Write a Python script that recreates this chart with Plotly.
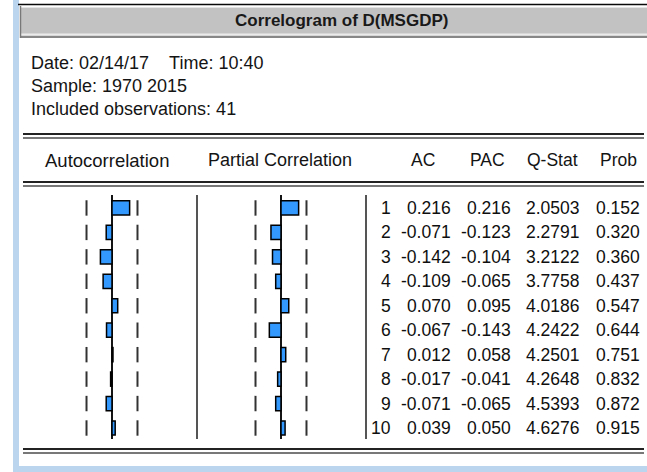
import plotly.graph_objects as go

# ---------------- data ----------------
lags = [1, 2, 3, 4, 5, 6, 7, 8, 9, 10]
ac = [0.216, -0.071, -0.142, -0.109, 0.070, -0.067, 0.012, -0.017, -0.071, 0.039]
pac = [0.216, -0.123, -0.104, -0.065, 0.095, -0.143, 0.058, -0.041, -0.065, 0.050]
qstat = [2.0503, 2.2791, 3.2122, 3.7758, 4.0186, 4.2422, 4.2501, 4.2648, 4.5393, 4.6276]
prob = [0.152, 0.320, 0.360, 0.437, 0.547, 0.644, 0.751, 0.832, 0.872, 0.915]
nobs = 41
title_text = "Correlogram of D(MSGDP)"
info_lines = ["Date: 02/14/17\u00a0\u00a0\u00a0\u00a0Time: 10:40",
              "Sample: 1970 2015",
              "Included observations: 41"]
col_headers = ["AC", "PAC", "Q-Stat", "Prob"]

bound = 2 / nobs ** 0.5

W, H = 647, 472
FONT = "Liberation Sans, Arial, sans-serif"


def fx(p):
    return p / W


def fy(p):
    return 1 - p / H


SCALE = 81.6  # px per unit of correlation


def xrange_for(left, right, zero):
    return [(left - zero) / SCALE, (right - zero) / SCALE]


fig = go.Figure()

bar_style = dict(color="rgb(51,153,255)", line=dict(color="black", width=1.5))
fig.add_trace(go.Bar(x=ac, y=lags, orientation="h", width=0.58, marker=bar_style,
                     xaxis="x", yaxis="y", showlegend=False, hoverinfo="skip"))
fig.add_trace(go.Bar(x=pac, y=lags, orientation="h", width=0.58, marker=bar_style,
                     xaxis="x2", yaxis="y", showlegend=False, hoverinfo="skip"))

tick_marker = dict(symbol="line-ns", size=11, line=dict(width=2, color="rgb(50,50,50)"))
for xa in ["x", "x2"]:
    fig.add_trace(go.Scatter(x=[-bound] * len(lags) + [bound] * len(lags), y=lags + lags,
                             mode="markers", marker=tick_marker, xaxis=xa, yaxis="y",
                             showlegend=False, hoverinfo="skip"))

axis_common = dict(showgrid=False, showticklabels=False, ticks="", showline=False,
                   zeroline=True, zerolinecolor="rgb(20,20,20)", zerolinewidth=1.5,
                   fixedrange=True)

shapes = []


def rect(x0, y0, x1, y1, color):
    shapes.append(dict(type="rect", xref="paper", yref="paper", x0=fx(x0), x1=fx(x1),
                       y0=fy(y1), y1=fy(y0), fillcolor=color, line=dict(width=0), layer="below"))


def hline(y, x0, x1, color, width):
    shapes.append(dict(type="line", xref="paper", yref="paper", x0=fx(x0), x1=fx(x1),
                       y0=fy(y), y1=fy(y), line=dict(color=color, width=width)))


def vline(x, y0, y1, color, width):
    shapes.append(dict(type="line", xref="paper", yref="paper", x0=fx(x), x1=fx(x),
                       y0=fy(y1), y1=fy(y0), line=dict(color=color, width=width)))


# window frame
rect(13, 0, 19, H, "rgb(188,213,238)")
rect(13, 466, W, H, "rgb(188,213,238)")
hline(4.5, 18, W, "rgb(10,10,10)", 1.5)
rect(20, 7, W, 37, "rgb(194,194,194)")
hline(7.5, 21, W, "rgb(228,228,228)", 1)
hline(34.5, 21, W, "rgb(235,235,235)", 2)
hline(37, 20, W, "rgb(135,135,135)", 2)
vline(20.5, 6, 38, "rgb(120,120,120)", 1.5)

# double rules
for ya, yb in [(134, 138), (182, 186), (449, 453)]:
    hline(ya, 23, 644, "rgb(35,35,35)", 2)
    hline(yb, 23, 644, "rgb(75,75,75)", 1.5)

# column separators
vline(197, 195, 439, "rgb(85,85,85)", 2)
vline(366, 195, 439, "rgb(85,85,85)", 2)

annotations = []
annotations.append(dict(text="<b>" + title_text + "</b>", xref="paper", yref="paper",
                        x=fx(341), y=fy(21), xanchor="center", yanchor="middle", showarrow=False,
                        font=dict(family=FONT, size=17, color="rgb(25,25,25)")))
for i, line in enumerate(info_lines):
    annotations.append(dict(text=line, xref="paper", yref="paper", x=fx(29), y=fy(63 + 23 * i),
                            xanchor="left", yanchor="middle", showarrow=False,
                            font=dict(family=FONT, size=18, color="rgb(20,20,20)")))

annotations.append(dict(text="Autocorrelation", xref="paper", yref="paper", x=fx(107), y=fy(160),
                        xanchor="center", yanchor="middle", showarrow=False,
                        font=dict(family=FONT, size=18.5, color="rgb(20,20,20)")))
annotations.append(dict(text="Partial Correlation", xref="paper", yref="paper", x=fx(280), y=fy(160),
                        xanchor="center", yanchor="middle", showarrow=False,
                        font=dict(family=FONT, size=18, color="rgb(20,20,20)")))
header_x = [409, 468, 525, 598]
for h, x in zip(col_headers, header_x):
    annotations.append(dict(text=h, xref="paper", yref="paper", x=fx(x), y=fy(160),
                            xanchor="left", yanchor="middle", showarrow=False,
                            font=dict(family=FONT, size=17.5, color="rgb(20,20,20)")))

col_right = [393, 453, 513, 582, 642]
for k in range(len(lags)):
    vals = [str(lags[k]), f"{ac[k]:.3f}", f"{pac[k]:.3f}", f"{qstat[k]:.4f}", f"{prob[k]:.3f}"]
    for v, xr in zip(vals, col_right):
        annotations.append(dict(text=v, xref="paper", yref="y", x=fx(xr), y=lags[k],
                                xanchor="right", yanchor="middle", showarrow=False,
                                font=dict(family=FONT, size=17.5, color="rgb(15,15,15)")))

fig.update_layout(
    width=W, height=H, margin=dict(l=0, r=0, t=0, b=0, pad=0, autoexpand=False),
    paper_bgcolor="white", plot_bgcolor="rgba(0,0,0,0)",
    xaxis=dict(domain=[fx(19), fx(197)], range=xrange_for(19, 197, 112), anchor="y", **axis_common),
    xaxis2=dict(domain=[fx(197), fx(366)], range=xrange_for(197, 366, 281), anchor="y", **axis_common),
    yaxis=dict(domain=[fy(439), fy(195)], range=[10.45, 0.47], visible=False, fixedrange=True),
    shapes=shapes, annotations=annotations, showlegend=False, bargap=0,
)

fig.write_html("out.html", config={"displayModeBar": False, "staticPlot": True},
               post_script="document.body.style.margin='0';document.body.style.overflow='hidden';")
